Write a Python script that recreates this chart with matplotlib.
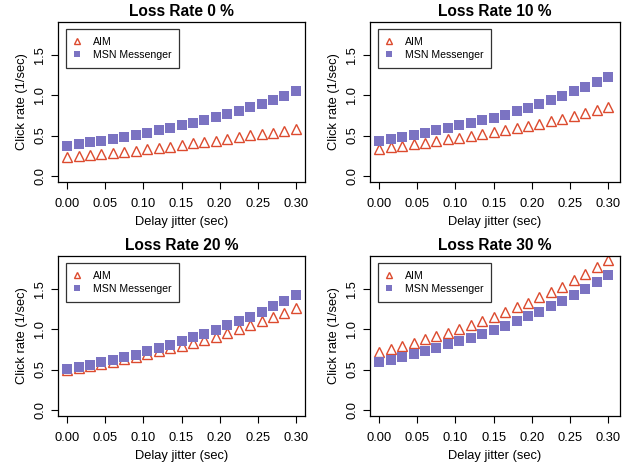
import numpy as np
import matplotlib
matplotlib.use('Agg')
import matplotlib.pyplot as plt

plt.rcParams['font.family'] = ['Liberation Sans', 'DejaVu Sans']

# ---- data ----
jitter = [0.000, 0.015, 0.030, 0.045, 0.060, 0.075, 0.090, 0.105, 0.120, 0.135, 0.150,
          0.165, 0.180, 0.195, 0.210, 0.225, 0.240, 0.255, 0.270, 0.285, 0.300]
loss_rates = [0, 10, 20, 30]

aim_0 = [0.235, 0.247, 0.260, 0.268, 0.280, 0.297, 0.313, 0.330, 0.350, 0.363, 0.383,
         0.404, 0.420, 0.437, 0.457, 0.482, 0.503, 0.519, 0.536, 0.560, 0.585]
msn_0 = [0.371, 0.396, 0.420, 0.437, 0.457, 0.482, 0.503, 0.527, 0.569, 0.593, 0.626,
         0.655, 0.688, 0.725, 0.762, 0.804, 0.849, 0.890, 0.940, 0.989, 1.051]
aim_10 = [0.334, 0.354, 0.375, 0.391, 0.408, 0.429, 0.453, 0.474, 0.499, 0.523, 0.548,
          0.569, 0.593, 0.622, 0.647, 0.680, 0.709, 0.738, 0.779, 0.816, 0.857]
msn_10 = [0.437, 0.457, 0.482, 0.503, 0.527, 0.569, 0.593, 0.626, 0.651, 0.688, 0.721,
          0.754, 0.804, 0.837, 0.894, 0.935, 0.985, 1.047, 1.096, 1.158, 1.220]
aim_20 = [0.497, 0.522, 0.544, 0.569, 0.598, 0.626, 0.659, 0.692, 0.734, 0.762, 0.791,
          0.832, 0.865, 0.907, 0.956, 1.001, 1.047, 1.096, 1.154, 1.203, 1.261]
msn_20 = [0.503, 0.527, 0.560, 0.589, 0.622, 0.651, 0.684, 0.725, 0.762, 0.799, 0.849,
          0.898, 0.940, 0.985, 1.047, 1.096, 1.154, 1.216, 1.282, 1.343, 1.418]
aim_30 = [0.721, 0.754, 0.795, 0.832, 0.874, 0.911, 0.956, 1.001, 1.051, 1.096, 1.154,
          1.207, 1.269, 1.327, 1.393, 1.455, 1.525, 1.603, 1.681, 1.764, 1.850]
msn_30 = [0.589, 0.622, 0.651, 0.688, 0.725, 0.762, 0.812, 0.849, 0.894, 0.935, 0.985,
          1.043, 1.096, 1.158, 1.216, 1.286, 1.347, 1.422, 1.492, 1.578, 1.665]

aim_series = [aim_0, aim_10, aim_20, aim_30]
msn_series = [msn_0, msn_10, msn_20, msn_30]

x_ticks = [0.00, 0.05, 0.10, 0.15, 0.20, 0.25, 0.30]
y_ticks = [0.0, 0.5, 1.0, 1.5]

AIM_COL = '#DC4A2E'
MSN_COL = '#7B73C2'

W, H = 634, 468
fig = plt.figure(figsize=(W / 100, H / 100), dpi=100)

# axes boxes in pixels: left, top, right, bottom
boxes = [(58, 21.7, 305, 181.7), (370, 21.7, 620, 181.7),
         (58, 255.7, 305, 415.7), (370, 255.7, 620, 415.7)]

for i, (l, t, r, b) in enumerate(boxes):
    ax = fig.add_axes([l / W, 1 - b / H, (r - l) / W, (b - t) / H])
    ax.plot(jitter, aim_series[i], ls='none', marker='^', ms=6.6, mfc='none',
            mec=AIM_COL, mew=1.0, label='AIM')
    ax.plot(jitter, msn_series[i], ls='none', marker='s', ms=6.6, mfc=MSN_COL,
            mec=MSN_COL, mew=0, label='MSN Messenger')
    ax.set_xlim(-0.012, 0.312 if i % 2 == 0 else 0.3155)
    ax.set_ylim(-0.071, 1.907)
    ax.set_xticks(x_ticks)
    ax.set_xticklabels(['%.2f' % v for v in x_ticks])
    ax.set_yticks(y_ticks)
    ax.set_yticklabels(['%.1f' % v for v in y_ticks], rotation=90, va='center')
    ax.tick_params(direction='out', length=4.8, width=0.8, labelsize=9.3, colors='black')
    ax.tick_params(axis='x', pad=7)
    ax.tick_params(axis='y', pad=3.5)
    for s in ax.spines.values():
        s.set_linewidth(0.9)
    ax.set_xlabel('Delay jitter (sec)', fontsize=9.3, labelpad=4.5)
    ax.set_ylabel('Click rate (1/sec)', fontsize=9.3, labelpad=5)
    ax.set_title('Loss Rate %d %%' % loss_rates[i], fontsize=11.2, fontweight='bold', pad=4)
    leg = ax.legend(loc='upper left', bbox_to_anchor=(0.033, 0.956), borderaxespad=0,
                    fontsize=7.6, markerscale=0.7, frameon=True, fancybox=False,
                    handlelength=0.55, handletextpad=1.2, borderpad=0.75, labelspacing=0.3)
    leg.get_frame().set_edgecolor('black')
    leg.get_frame().set_linewidth(0.9)

fig.savefig('out.png', dpi=100)
